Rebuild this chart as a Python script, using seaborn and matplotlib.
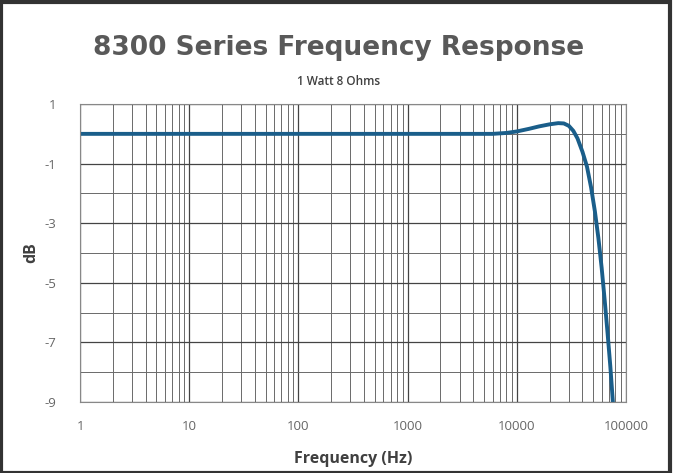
import matplotlib
matplotlib.use("Agg")
import matplotlib.pyplot as plt
import matplotlib.ticker as mticker
import seaborn as sns
import pandas as pd

# response
freq_hz = [1, 10, 100, 1000, 3000, 6000, 8000, 10000, 13000, 16000, 20000, 24000,
           27000, 30000, 33000, 36000, 40000, 44000, 48000, 52000, 56000, 60000,
           64000, 68000, 72000, 76000]
level_db = [0.0, 0.0, 0.0, 0.0, 0.0, 0.0, 0.03, 0.08, 0.17, 0.25, 0.32, 0.36,
            0.35, 0.27, 0.1, -0.15, -0.6, -1.1, -1.8, -2.6, -3.5, -4.5,
            -5.6, -6.7, -7.8, -9.0]

y_ticks = [1, -1, -3, -5, -7, -9]
x_ticks = [1, 10, 100, 1000, 10000, 100000]

df = pd.DataFrame({"Frequency": freq_hz, "dB": level_db})

sns.set_style("white")
plt.rcParams['font.family'] = ['Open Sans', 'DejaVu Sans']
plt.rcParams['axes.unicode_minus'] = False

fig = plt.figure(figsize=(6.73, 4.73), dpi=100)
ax = fig.add_axes([0.119, 0.150, 0.811, 0.630])

sns.lineplot(x="Frequency", y="dB", data=df, color="#1a5e8a", linewidth=2.8, ax=ax)

ax.set_xscale("log")
ax.set_xlim(1, 100000)
ax.set_ylim(-9, 1)
ax.xaxis.set_major_locator(mticker.FixedLocator(x_ticks))
ax.xaxis.set_major_formatter(mticker.FuncFormatter(lambda v, p: f"{int(v)}"))
ax.xaxis.set_minor_locator(mticker.LogLocator(base=10, subs=range(2, 10)))
ax.xaxis.set_minor_formatter(mticker.NullFormatter())
ax.yaxis.set_major_locator(mticker.FixedLocator(y_ticks))
ax.yaxis.set_minor_locator(mticker.MultipleLocator(1))

ax.grid(which="major", color="#444444", linewidth=0.9)
ax.grid(which="minor", color="#6a6a6a", linewidth=0.7)
ax.set_axisbelow(True)
for s in ax.spines.values():
    s.set_color("#888888")
    s.set_linewidth(0.8)
ax.tick_params(which="both", length=0)
ax.tick_params(axis="x", labelsize=9.5, labelcolor="#666666", pad=13)
ax.tick_params(axis="y", labelsize=9.5, labelcolor="#666666", pad=17)

ax.set_xlabel("Frequency (Hz)", fontsize=11.5, fontweight="bold", color="#404040", labelpad=13)
ax.set_ylabel("dB", fontsize=11.5, fontweight="bold", color="#404040", labelpad=4)

fig.text(0.503, 0.898, "8300 Series Frequency Response", ha="center", va="center",
         fontsize=19, fontweight="bold", color="#595959", family="DejaVu Sans")
fig.text(0.503, 0.828, "1 Watt 8 Ohms", ha="center", va="center",
         fontsize=8.5, fontweight="semibold", color="#404040")

# dark outer frame
fig.patches.append(plt.Rectangle((0.002, 0.0), 0.994, 0.995, transform=fig.transFigure,
                                 fill=False, edgecolor="#333333", linewidth=3))

fig.savefig("out.png", dpi=100)
